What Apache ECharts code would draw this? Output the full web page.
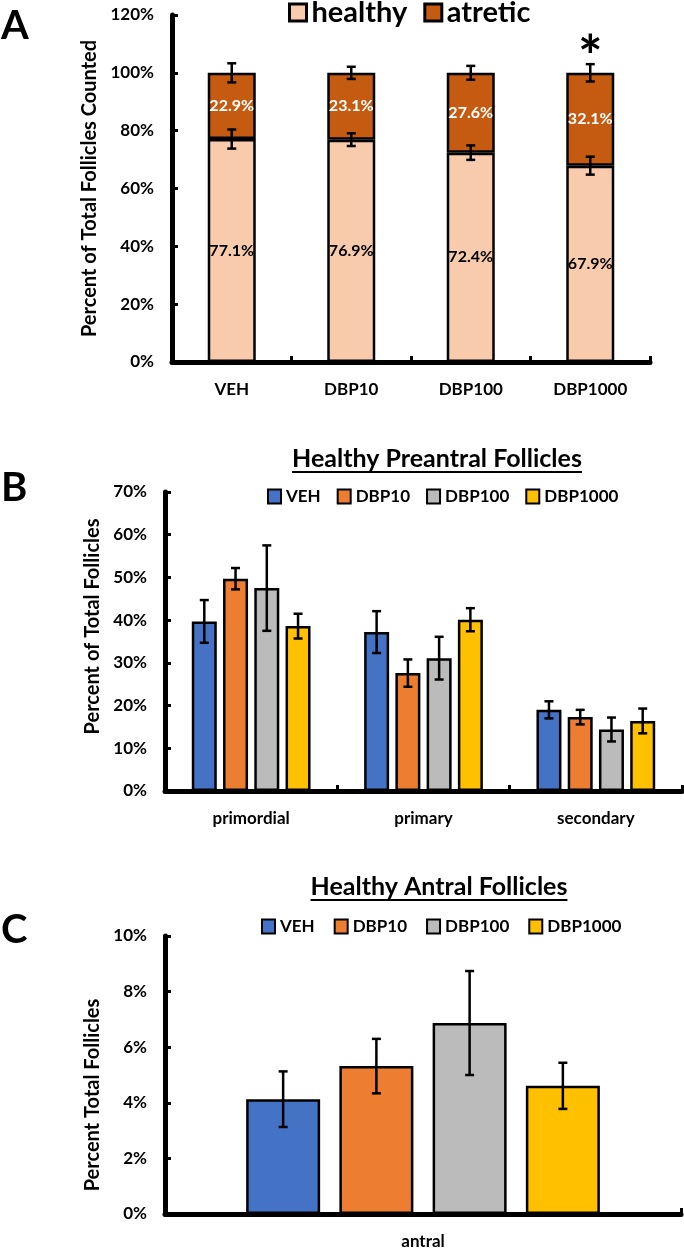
<!DOCTYPE html>
<html><head><meta charset="utf-8">
<script src="https://cdn.jsdelivr.net/npm/echarts@6/dist/echarts.min.js"></script>
<style>html,body{margin:0;padding:0;background:#fff}#c{width:684px;height:1250px}</style>
</head><body><div id="c"></div>
<script>
// ---------- DATA ----------
// Panel A
const catsA = ['VEH', 'DBP10', 'DBP100', 'DBP1000'];
const healthy = [77.1, 76.9, 72.4, 67.9];
const atretic = [22.9, 23.1, 27.6, 32.1];
const healthyErr = [3.3, 2.2, 2.5, 3.1];
const atreticErr = [3.3, 2.1, 2.4, 3.0];
const signifA = ['', '', '', '*'];
// Panel B
const groups = ['VEH', 'DBP10', 'DBP100', 'DBP1000'];
const catsB = ['primordial', 'primary', 'secondary'];
const bVEH = [39.7, 37.2, 19.0];
const bDBP10 = [49.7, 27.6, 17.3];
const bDBP100 = [47.5, 31.1, 14.4];
const bDBP1000 = [38.6, 40.1, 16.4];
const bVEHErr = [5.0, 4.9, 2.0];
const bDBP10Err = [2.5, 3.2, 1.7];
const bDBP100Err = [10.0, 5.0, 2.8];
const bDBP1000Err = [2.9, 2.7, 2.9];
// Panel C
const catsC = ['antral'];
const cVEH = [4.13];
const cDBP10 = [5.32];
const cDBP100 = [6.87];
const cDBP1000 = [4.61];
const cVEHErr = [1.0];
const cDBP10Err = [0.98];
const cDBP100Err = [1.87];
const cDBP1000Err = [0.83];
// Titles / axis names
const titleB = 'Healthy Preantral Follicles';
const titleC = 'Healthy Antral Follicles';
const yNameA = 'Percent of Total Follicles Counted';
const yNameB = 'Percent of Total Follicles';
const yNameC = 'Percent Total Follicles';

// ---------- STYLE ----------
const FONT = 'Lato';
const groupColors = ['#4472C4', '#ED7D31', '#BBBBBB', '#FFC000'];
const colHealthy = '#F8CBAD', colAtretic = '#C55A11';

const chart = echarts.init(document.getElementById('c'), null, {renderer: 'canvas'});

function measure(text, font) {
  const ctx = document.createElement('canvas').getContext('2d');
  ctx.font = font; return ctx.measureText(text).width;
}

function errSeries(name, xi, yi, vals, errs, offset, cap) {
  return {
    type: 'custom', name: name, xAxisIndex: xi, yAxisIndex: yi, z: 10, silent: true,
    data: vals.map((v, i) => [i, v, errs[i]]),
    renderItem: function (params, api) {
      const x = api.value(0), v = api.value(1), e = api.value(2);
      const hi = api.coord([x, v + e]), lo = api.coord([x, v - e]);
      const cx = hi[0] + offset;
      const st = {stroke: '#000', lineWidth: 2.5};
      return {type: 'group', children: [
        {type: 'line', shape: {x1: cx, y1: hi[1], x2: cx, y2: lo[1]}, style: st},
        {type: 'line', shape: {x1: cx - cap, y1: hi[1], x2: cx + cap, y2: hi[1]}, style: st},
        {type: 'line', shape: {x1: cx - cap, y1: lo[1], x2: cx + cap, y2: lo[1]}, style: st}
      ]};
    }
  };
}

const axisLineStyle = {show: true, lineStyle: {color: '#000', width: 5}};
const tickStyle = {show: true, inside: true, length: 6, lineStyle: {color: '#000', width: 3}};
const lblStyle = {color: '#000', fontFamily: FONT, fontWeight: 'bold', fontSize: 17};

function xAx(grid, data) {
  return {type: 'category', gridIndex: grid, data: data, boundaryGap: true,
    axisLine: axisLineStyle, axisTick: Object.assign({alignWithLabel: false}, tickStyle),
    axisLabel: Object.assign({margin: 19}, lblStyle)};
}
function yAx(grid, max, interval, name, gap, pad) {
  return {type: 'value', gridIndex: grid, min: 0, max: max, interval: interval,
    name: name, nameLocation: 'middle', nameGap: gap,
    nameTextStyle: {color: '#000', fontFamily: FONT, fontWeight: 'bold', fontSize: 20, padding: pad},
    axisLine: axisLineStyle, axisTick: tickStyle, splitLine: {show: false},
    axisLabel: Object.assign({margin: 18, formatter: '{value}%'}, lblStyle)};
}

const bBars = [bVEH, bDBP10, bDBP100, bDBP1000];
const bErrs = [bVEHErr, bDBP10Err, bDBP100Err, bDBP1000Err];
const cBars = [cVEH, cDBP10, cDBP100, cDBP1000];
const cErrs = [cVEHErr, cDBP10Err, cDBP100Err, cDBP1000Err];
const bW = 25, bGap = 0.25, cW = 74, cGap = 0.26;

const series = [
  {name: 'healthy', type: 'bar', stack: 'a', xAxisIndex: 0, yAxisIndex: 0, barWidth: 48,
    data: healthy,
    itemStyle: {color: colHealthy, borderColor: '#000', borderWidth: 2.5},
    label: {show: true, position: 'inside', formatter: p => p.value.toFixed(1) + '%',
      color: '#000', fontFamily: FONT, fontWeight: 'bold', fontSize: 16}},
  {name: 'atretic', type: 'bar', stack: 'a', xAxisIndex: 0, yAxisIndex: 0, barWidth: 48,
    data: atretic,
    itemStyle: {color: colAtretic, borderColor: '#000', borderWidth: 2.5},
    label: {show: true, position: 'inside', formatter: p => p.value.toFixed(1) + '%',
      color: '#fff', fontFamily: FONT, fontWeight: 'bold', fontSize: 16},
    markPoint: {symbol: 'circle', symbolSize: 0,
      data: signifA.map((s, i) => s ? {coord: [i, 105], value: s} : null).filter(Boolean),
      label: {show: true, formatter: p => p.value, color: '#000', fontFamily: FONT,
        fontWeight: 'bold', fontSize: 58}}},
  errSeries('errHealthy', 0, 0, healthy, healthyErr, 0, 4.5),
  errSeries('errAtretic', 0, 0, healthy.map((h, i) => h + atretic[i]), atreticErr, 0, 4.5)
];
groups.forEach((g, i) => {
  series.push({name: g, type: 'bar', xAxisIndex: 1, yAxisIndex: 1, barWidth: bW,
    barGap: (bGap * 100) + '%', data: bBars[i],
    itemStyle: {color: groupColors[i], borderColor: '#000', borderWidth: 2.5}});
});
groups.forEach((g, i) => {
  series.push(errSeries('errB' + i, 1, 1, bBars[i], bErrs[i], (i - 1.5) * bW * (1 + bGap), 4.5));
});
groups.forEach((g, i) => {
  series.push({name: g, type: 'bar', xAxisIndex: 2, yAxisIndex: 2, barWidth: cW,
    barGap: (cGap * 100) + '%', data: cBars[i],
    itemStyle: {color: groupColors[i], borderColor: '#000', borderWidth: 2.5}});
});
groups.forEach((g, i) => {
  series.push(errSeries('errC' + i, 2, 2, cBars[i], cErrs[i], (i - 1.5) * cW * (1 + cGap), 4.5));
});

const tFont = 'bold 25px ' + FONT;
const wB = measure(titleB, tFont), wC = measure(titleC, tFont);
const tBx = 437, tBy = 459, tCx = 439, tCy = 887;

const option = {
  animation: false,
  backgroundColor: '#fff',
  grid: [
    {left: 172, top: 15, width: 478, height: 347},
    {left: 165, top: 492, width: 517, height: 299},
    {left: 165, top: 936, width: 516, height: 280}
  ],
  xAxis: [xAx(0, catsA), xAx(1, catsB), xAx(2, catsC)],
  yAxis: [
    yAx(0, 120, 20, yNameA, 54, [0, 0, 0, 0]),
    yAx(1, 70, 10, yNameB, 41, [0, 0, 0, 30]),
    yAx(2, 10, 2, yNameC, 35, [0, 40, 0, 0])
  ],
  legend: [
    {data: ['healthy', 'atretic'], left: 288, top: -2, padding: 0, icon: 'rect',
      itemWidth: 17, itemHeight: 17, itemGap: 16, itemStyle: {borderWidth: 3},
      textStyle: {color: '#000', fontFamily: FONT, fontWeight: 'bold', fontSize: 29}},
    {data: groups, left: 267, top: 488, padding: 0, icon: 'rect',
      itemWidth: 13, itemHeight: 14, itemGap: 16, selectedMode: false,
      textStyle: {color: '#000', fontFamily: FONT, fontWeight: 'bold', fontSize: 17}},
    {data: groups, left: 261, top: 918, padding: 0, icon: 'rect',
      itemWidth: 13, itemHeight: 14, itemGap: 19, selectedMode: false,
      textStyle: {color: '#000', fontFamily: FONT, fontWeight: 'bold', fontSize: 17}}
  ],
  graphic: [
    {type: 'text', x: 1, y: 6, style: {text: 'A', font: 'bold 40px ' + FONT, fill: '#000'}},
    {type: 'text', x: 1, y: 468, style: {text: 'B', font: 'bold 40px ' + FONT, fill: '#000'}},
    {type: 'text', x: 1, y: 910, style: {text: 'C', font: 'bold 40px ' + FONT, fill: '#000'}},
    {type: 'text', x: tBx, y: tBy, style: {text: titleB, font: tFont, fill: '#000', align: 'center', verticalAlign: 'middle'}},
    {type: 'line', shape: {x1: tBx - wB / 2, y1: tBy + 13, x2: tBx + wB / 2, y2: tBy + 13}, style: {stroke: '#000', lineWidth: 2}},
    {type: 'text', x: tCx, y: tCy, style: {text: titleC, font: tFont, fill: '#000', align: 'center', verticalAlign: 'middle'}},
    {type: 'line', shape: {x1: tCx - wC / 2, y1: tCy + 13, x2: tCx + wC / 2, y2: tCy + 13}, style: {stroke: '#000', lineWidth: 2}}
  ],
  series: series
};
chart.setOption(option);
</script>
</body></html>
